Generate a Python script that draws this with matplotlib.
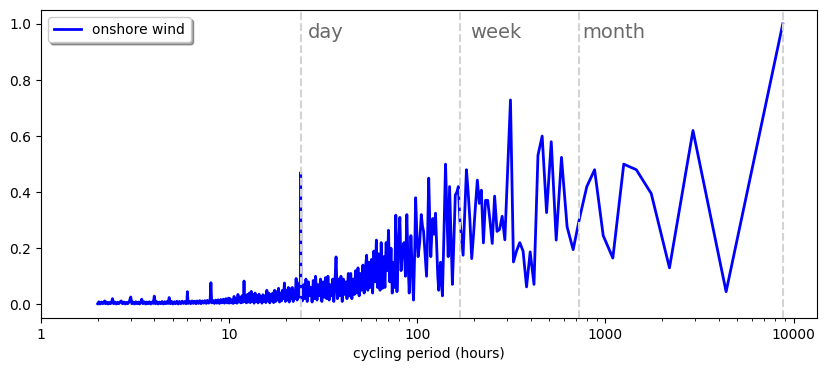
import matplotlib.pyplot as plt
import matplotlib.ticker as mticker
import numpy as np

## parameters
fig_size = (8.26, 3.71)
lw0 = 2
fs_mark = 14

hours_per_year = 8760

## ----- data ----- ##

# resolved part of the spectrum: harmonics k = 1..60 of one year
k_long = np.arange(1, 61)
power_long = [1.00, 0.045, 0.62, 0.13, 0.395, 0.48, 0.50, 0.165, 0.245, 0.48,
              0.42, 0.31, 0.195, 0.276, 0.524, 0.229, 0.58, 0.327, 0.60, 0.532,
              0.071, 0.187, 0.062, 0.19, 0.22, 0.19, 0.151, 0.729, 0.48, 0.23,
              0.314, 0.267, 0.26, 0.386, 0.217, 0.30, 0.371, 0.371, 0.219, 0.407,
              0.36, 0.443, 0.35, 0.25, 0.163, 0.30, 0.40, 0.48, 0.33, 0.175,
              0.24, 0.30, 0.42, 0.40, 0.39, 0.22, 0.071, 0.25, 0.42, 0.17]

# dense part, (period in hours, power) read as zigzag extremes
flat_band = [
    (2.00, 0.002), (2.03, 0.009), (2.06, 0.001), (2.10, 0.008), (2.13, 0.002),
    (2.16, 0.008), (2.18, 0.012), (2.20, 0.002), (2.23, 0.008), (2.27, 0.001),
    (2.30, 0.007), (2.34, 0.002), (2.37, 0.008), (2.40, 0.020), (2.43, 0.002),
    (2.47, 0.008), (2.51, 0.001), (2.55, 0.007), (2.59, 0.002), (2.63, 0.008),
    (2.67, 0.012), (2.71, 0.002), (2.76, 0.008), (2.80, 0.001), (2.85, 0.007),
    (2.89, 0.002), (2.94, 0.008), (3.00, 0.026), (3.04, 0.002), (3.09, 0.008),
    (3.14, 0.001), (3.19, 0.009), (3.24, 0.002), (3.29, 0.008), (3.34, 0.001),
    (3.39, 0.007), (3.43, 0.018), (3.48, 0.002), (3.54, 0.009), (3.60, 0.001),
    (3.65, 0.008), (3.71, 0.002), (3.77, 0.009), (3.83, 0.001), (3.89, 0.008),
    (3.95, 0.003), (4.00, 0.029), (4.06, 0.002), (4.13, 0.009), (4.19, 0.001),
    (4.26, 0.008), (4.33, 0.002), (4.40, 0.010), (4.47, 0.001), (4.54, 0.009),
    (4.61, 0.002), (4.68, 0.010), (4.74, 0.003), (4.80, 0.024), (4.87, 0.002),
    (4.95, 0.010), (5.03, 0.001), (5.11, 0.009), (5.19, 0.002), (5.27, 0.011),
    (5.36, 0.001), (5.44, 0.010), (5.53, 0.002), (5.62, 0.011), (5.71, 0.003),
    (5.80, 0.010), (5.89, 0.002), (5.96, 0.008), (6.00, 0.045), (6.05, 0.003),
    (6.15, 0.011), (6.25, 0.002), (6.35, 0.012), (6.45, 0.003), (6.55, 0.011),
    (6.66, 0.002), (6.76, 0.012), (6.87, 0.003), (6.98, 0.013), (7.09, 0.002),
    (7.20, 0.012), (7.32, 0.004), (7.43, 0.013), (7.55, 0.003), (7.67, 0.014),
    (7.79, 0.004), (7.92, 0.012), (8.00, 0.077), (8.08, 0.005), (8.20, 0.014),
    (8.34, 0.003), (8.47, 0.015), (8.60, 0.004), (8.74, 0.016), (8.88, 0.003),
    (9.02, 0.017), (9.17, 0.005), (9.31, 0.018), (9.46, 0.004), (9.61, 0.020),
    (9.77, 0.005), (9.92, 0.022),
]

subday_band = [
    (10.0, 0.004), (10.12, 0.020), (10.25, 0.005), (10.37, 0.015), (10.5, 0.003),
    (10.62, 0.028), (10.75, 0.006), (10.88, 0.020), (11.01, 0.004), (11.14, 0.035),
    (11.28, 0.008), (11.41, 0.025), (11.55, 0.005), (11.69, 0.030), (11.83, 0.007),
    (11.95, 0.020), (12.0, 0.083), (12.05, 0.010), (12.2, 0.030), (12.35, 0.005),
    (12.5, 0.035), (12.65, 0.008), (12.8, 0.040), (12.95, 0.006), (13.1, 0.046),
    (13.26, 0.010), (13.42, 0.035), (13.58, 0.004), (13.74, 0.040), (13.91, 0.010),
    (14.08, 0.030), (14.25, 0.005), (14.42, 0.036), (14.59, 0.012), (14.77, 0.028),
    (14.94, 0.004), (15.12, 0.034), (15.3, 0.010), (15.49, 0.030), (15.67, 0.006),
    (15.86, 0.050), (16.05, 0.012), (16.25, 0.040), (16.44, 0.005), (16.64, 0.035),
    (16.84, 0.012), (17.04, 0.040), (17.25, 0.006), (17.45, 0.050), (17.66, 0.010),
    (17.88, 0.045), (18.09, 0.015), (18.31, 0.057), (18.53, 0.008), (18.75, 0.040),
    (18.98, 0.012), (19.2, 0.050), (19.43, 0.020), (19.67, 0.076), (19.9, 0.010),
    (20.14, 0.050), (20.38, 0.015), (20.63, 0.060), (20.88, 0.008), (21.13, 0.055),
    (21.38, 0.020), (21.64, 0.060), (21.9, 0.010), (22.16, 0.050), (22.43, 0.020),
    (22.7, 0.092), (22.97, 0.015), (23.25, 0.070), (23.53, 0.025), (23.8, 0.080),
    (23.93, 0.045), (24.0, 0.47), (24.07, 0.05),
]

days_band = [
    (24.2, 0.03), (24.5, 0.012), (24.9, 0.07), (25.2, 0.02), (25.6, 0.09),
    (26.0, 0.01), (26.4, 0.08), (26.8, 0.03), (27.2, 0.06), (27.6, 0.008),
    (28.0, 0.085), (28.4, 0.02), (28.8, 0.10), (29.3, 0.015), (29.7, 0.07),
    (30.2, 0.03), (30.6, 0.09), (31.1, 0.01), (31.5, 0.08), (32.0, 0.025),
    (32.5, 0.095), (33.0, 0.02), (33.5, 0.10), (34.0, 0.015), (34.5, 0.07),
    (35.0, 0.03), (35.5, 0.09), (36.0, 0.01), (36.5, 0.08), (37.0, 0.169),
    (37.6, 0.02), (38.1, 0.09), (38.7, 0.03), (39.3, 0.10), (39.9, 0.01),
    (40.5, 0.09), (41.1, 0.035), (41.7, 0.08), (42.3, 0.02), (43.0, 0.11),
    (43.6, 0.03), (44.3, 0.11), (44.9, 0.02), (45.6, 0.09), (46.3, 0.035),
    (47.0, 0.12), (47.7, 0.04), (48.4, 0.13), (49.1, 0.03), (49.9, 0.11),
    (50.6, 0.05), (51.4, 0.14), (52.2, 0.04), (52.9, 0.12), (53.8, 0.175),
    (54.6, 0.05), (55.4, 0.15), (56.2, 0.06), (57.1, 0.16), (57.9, 0.04),
    (58.8, 0.19), (59.7, 0.08), (60.6, 0.229), (61.5, 0.06), (62.4, 0.18),
    (63.4, 0.05), (64.3, 0.22), (65.3, 0.057), (66.3, 0.17), (67.3, 0.06),
    (68.3, 0.22), (69.3, 0.12), (70.3, 0.264), (71.4, 0.08), (72.5, 0.20),
    (73.6, 0.04), (74.7, 0.15), (75.8, 0.06), (76.9, 0.318),
]

week_band = [
    (78.0, 0.045), (79.3, 0.20), (80.8, 0.31), (82.0, 0.12), (83.5, 0.20),
    (85.0, 0.22), (86.5, 0.10), (88.0, 0.32), (89.3, 0.15), (90.6, 0.04),
    (92.5, 0.245), (94.0, 0.12), (95.5, 0.015), (97.0, 0.20), (98.0, 0.38),
    (99.5, 0.25), (101.0, 0.17), (103.0, 0.22), (105.0, 0.32), (106.5, 0.28),
    (108.0, 0.26), (110.0, 0.18), (112.0, 0.10), (113.5, 0.25), (115.0, 0.45),
    (116.5, 0.30), (118.0, 0.17), (119.5, 0.25), (121.0, 0.306), (123.0, 0.25),
    (125.0, 0.325), (127.0, 0.20), (128.5, 0.10), (130.0, 0.05), (131.5, 0.12),
    (133.0, 0.15), (134.5, 0.08), (136.0, 0.03), (138.0, 0.20), (141.3, 0.50),
    (143.6, 0.33),
]

# marked cycles
mark_hours = [24, 168, 720, 8760]
mark_labels = ["day", "week", "month"]
mark_text_x = [26.2, 191, 750]

## ----- assemble ----- ##
dense = flat_band + subday_band + days_band + week_band
period_dense, power_dense = zip(*dense)

period = np.concatenate([hours_per_year / k_long, period_dense])
power = np.concatenate([power_long, power_dense])
order = np.argsort(period)
period = period[order]
power = power[order]

## ----- plot ----- ##
fig = plt.figure(figsize=fig_size, dpi=100)
ax = fig.add_axes([41 / 826, 53 / 371, 776 / 826, 308 / 371])

ax.plot(period, power, color="blue", lw=lw0, label="onshore wind")

for h in mark_hours:
    ax.axvline(h, color="lightgray", ls="--", lw=1.5, zorder=3)
for lab, xt in zip(mark_labels, mark_text_x):
    ax.text(xt, 0.95, lab, fontsize=fs_mark, color="dimgray", va="baseline")

ax.set_xscale("log")
ax.set_xlim(left=1)
ax.xaxis.set_major_formatter(mticker.FormatStrFormatter("%d"))
ax.set_xlabel("cycling period (hours)")

ax.legend(loc="upper left", shadow=True)

fig.savefig("out.png", dpi=100)
